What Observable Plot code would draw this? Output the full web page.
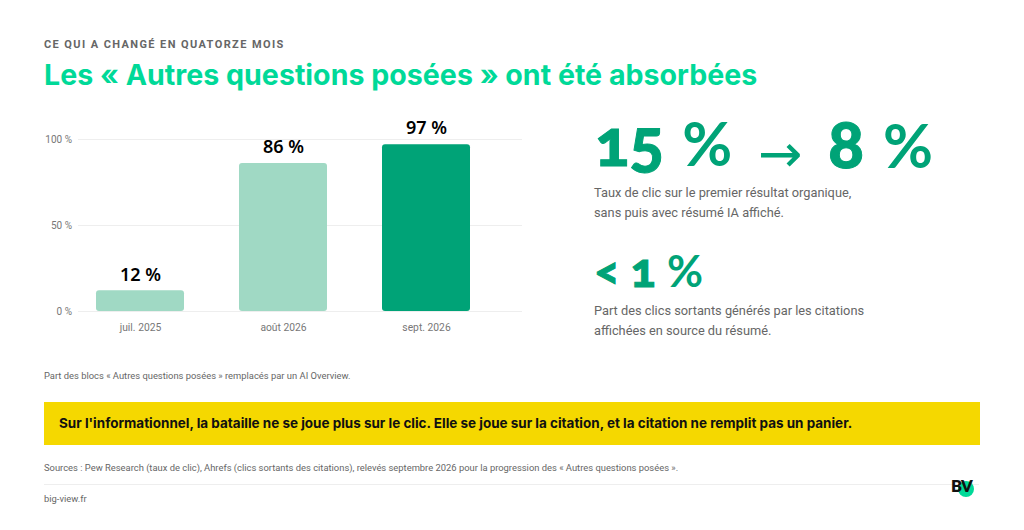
<!DOCTYPE html>
<html lang="fr"><head><meta charset="utf-8">
<script src="https://cdn.jsdelivr.net/npm/d3@7"></script>
<script src="https://cdn.jsdelivr.net/npm/@observablehq/plot@0.6"></script>
<style>
html,body{margin:0;padding:0;background:#fff;width:1024px;height:530px;overflow:hidden}
body{position:relative;font-family:Roboto,sans-serif}
.t{position:absolute;white-space:nowrap}
#eyebrow{left:44px;top:38px;font:700 11px/14px Roboto;letter-spacing:1.4px;color:#666}
#title{left:44px;top:57px;font:700 28.6px/36px Inter;color:#00D998}
#chart{position:absolute;left:0;top:110px}
#chart svg{display:block}
.big{font-family:Lato;font-weight:900;color:#00A377;font-variant-numeric:oldstyle-nums;-webkit-text-stroke:1px #00A377}
.big span{font-weight:700;-webkit-text-stroke:0}
#k1{left:595px;top:105px;font-size:64px;line-height:74px}
#k1 span{font-size:61px;margin-left:3px}
#k1b{left:758px;top:126px;font:400 53px/56px "DejaVu Sans";color:#00A377}
#k2{left:828px;top:105px;font-size:67px;line-height:74px}
#k2 span{font-size:61px;margin-left:3px}
#k3{left:594px;top:240px;font-size:47px;line-height:58px}
#k3 span{font-size:44px}
.d{left:594px;font:400 12.8px/20px Roboto;color:#666}
#d1{top:182.5px}#d2{top:300.5px}
#cap{left:44px;top:369px;font:400 9.4px/13px Roboto;color:#666}
#band{position:absolute;left:44px;top:402px;width:936px;height:43px;background:#F5D800}
#msg{left:59px;top:414px;font:700 13.47px/19px Inter;color:#111}
#src{left:44px;top:461px;font:400 9.4px/13px Roboto;color:#666}
#rule{position:absolute;left:44px;top:484px;width:935px;height:1px;background:#eee}
#site{left:44px;top:492px;font:400 9.4px/13px Roboto;color:#666}
#dot{position:absolute;left:958px;top:481px;width:16px;height:16px;border-radius:50%;background:#00D998}
#logo{left:951px;top:477px;font:800 16.5px/18px Lato;color:#111;letter-spacing:-.8px}
</style></head><body>
<div class="t" id="eyebrow">CE QUI A CHANGÉ EN QUATORZE MOIS</div>
<div class="t" id="title">Les « Autres questions posées » ont été absorbées</div>
<div id="chart"></div>
<div class="t big" id="k1">15 <span>%</span></div><div class="t" id="k1b">→</div><div class="t big" id="k2">8 <span>%</span></div>
<div class="t d" id="d1">Taux de clic sur le premier résultat organique,<br>sans puis avec résumé IA affiché.</div>
<div class="t big" id="k3">&lt; 1 <span>%</span></div>
<div class="t d" id="d2">Part des clics sortants générés par les citations<br>affichées en source du résumé.</div>
<div class="t" id="cap">Part des blocs « Autres questions posées » remplacés par un AI Overview.</div>
<div id="band"></div>
<div class="t" id="msg">Sur l'informationnel, la bataille ne se joue plus sur le clic. Elle se joue sur la citation, et la citation ne remplit pas un panier.</div>
<div class="t" id="src">Sources : Pew Research (taux de clic), Ahrefs (clics sortants des citations), relevés septembre 2026 pour la progression des « Autres questions posées ».</div>
<div id="rule"></div>
<div class="t" id="site">big-view.fr</div>
<div id="dot"></div><div class="t" id="logo">BV</div>
<script>
const months = ["juil. 2025", "août 2026", "sept. 2026"];
const shares = [12, 86, 97];
const barColors = ["#A0D9C4", "#A0D9C4", "#00A377"];
const yTicks = [0, 50, 100];
const table = months.map((m, i) => ({m, v: shares[i], c: barColors[i]}));
const chart = Plot.plot({
  width: 540, height: 240,
  marginLeft: 78, marginRight: 18, marginTop: 29, marginBottom: 39,
  style: {fontFamily: "Roboto", background: "transparent"},
  x: {domain: months, paddingInner: 0.385, paddingOuter: 0.24, align: 0.26, label: null},
  y: {domain: [0, 100], label: null},
  marks: [
    Plot.gridY(yTicks, {stroke: "#eeeeee", strokeOpacity: 1}),
    Plot.axisY(yTicks, {tickSize: 0, tickPadding: 6.5, fontSize: 10, fill: "#777", tickFormat: d => d + " %", label: null}),
    Plot.axisX({tickSize: 0, tickPadding: 12.5, fontSize: 10.3, fill: "#777", label: null}),
    Plot.barY(table, {x: "m", y: "v", fill: "c", rx: 3, ry: 3}),
    Plot.text(table, {x: "m", y: "v", text: d => d.v + " %", dy: -16, fontSize: 18, fontWeight: 600, fontFamily: "Noto Sans", fill: "#000"})
  ]
});
document.getElementById("chart").appendChild(chart);
</script>
</body></html>
